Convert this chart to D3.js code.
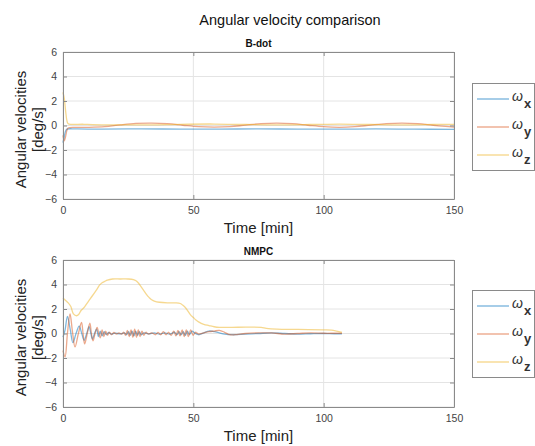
<!DOCTYPE html>
<html><head><meta charset="utf-8">
<script src="https://cdn.jsdelivr.net/npm/d3@7"></script>
<style>body{margin:0;background:#fff}svg{display:block;font-family:"Liberation Sans",Arial,sans-serif}</style>
</head><body><svg id="c" width="535" height="446"></svg>
<script>
const xTicks = [0, 50, 100, 150];
const yTicks = [-6, -4, -2, 0, 2, 4, 6];
const seriesNames = ["x", "y", "z"];
const seriesColors = ["#0072BD", "#D95319", "#EDB120"];

// B-dot series: [time (min), value (deg/s)]
const bdotWx = [[0,-1.4],[0.5,-0.9],[1,-0.45],[1.5,-0.3],[5,-0.28],[15,-0.3],[30,-0.27],[45,-0.3],[60,-0.3],[75,-0.27],[90,-0.3],[105,-0.3],[120,-0.28],[135,-0.3],[150,-0.32]];
const bdotWy = [[0,-0.8],[0.5,-1.25],[1,-0.9],[1.5,-0.4],[2,-0.2],[5,-0.15],[10,-0.15],[16,-0.1],[22,0.05],[28,0.17],[34,0.2],[40,0.15],[46,0.02],[52,-0.1],[58,-0.14],[64,-0.1],[70,0.03],[76,0.15],[82,0.2],[88,0.15],[94,0.02],[100,-0.1],[106,-0.15],[112,-0.1],[118,0.03],[124,0.15],[130,0.2],[136,0.15],[142,0.02],[148,-0.1],[150,-0.13]];
const bdotWz = [[0,2.7],[0.5,2.2],[1,1.2],[1.5,0.4],[2,0.15],[8,0.1],[16,0.05],[25,0.05],[34,0.05],[45,0.1],[58,0.12],[70,0.08],[82,0.05],[95,0.08],[106,0.12],[118,0.08],[130,0.05],[142,0.08],[150,0.1]];

// NMPC series
const nmpcWx = [[0,-0.3],[0.8,0.3],[1.7,1.4],[2.8,0.3],[3.8,-0.75],[5,0],[6.2,0.6],[7.2,0],[8.1,-0.55],[9.1,0],[10,0.55],[10.7,0],[11.3,-0.45],[12.1,0],[12.9,0.35],[13.6,-0.25],[14.3,0.2],[15,-0.2],[15.8,0.15],[16.6,-0.1],[17.5,0.08],[18.5,-0.05],[20,0.03],[22,-0.03],[23.6,0.05],[24.4,-0.1],[25.1,0.15],[25.8,-0.15],[26.5,0.2],[27.2,-0.2],[27.9,0.2],[28.6,-0.15],[29.3,0.15],[30,-0.1],[31,0.05],[33,-0.03],[35,0.05],[37,-0.05],[39,0.05],[41,-0.05],[42.8,0.1],[43.7,-0.1],[44.5,0.15],[45.3,-0.1],[46.1,0.15],[46.9,-0.15],[47.7,0.2],[48.5,-0.1],[49.5,0.2],[50.5,0.05],[52,-0.1],[54,0.05],[56,0.2],[58,0.15],[60,0.05],[62,-0.05],[65,-0.1],[70,-0.05],[75,0],[80,0.05],[85,0],[90,-0.05],[95,-0.02],[100,0],[104,-0.02],[107,-0.02]];
const nmpcWy = [[0,-1.4],[0.8,-1.9],[1.7,0],[2.7,1.6],[3.6,0.2],[4.6,-1.1],[5.9,0],[7.1,0.9],[7.7,0],[8.3,-0.85],[9.3,0],[10.3,0.85],[10.9,0],[11.5,-0.6],[12.3,0],[13.1,0.5],[13.7,0],[14.3,-0.35],[15,0.3],[15.7,-0.25],[16.4,0.2],[17.1,-0.15],[17.8,0.12],[18.6,-0.1],[19.5,0.08],[20.5,-0.05],[21.5,0.05],[22.5,-0.05],[23.3,0.1],[24,-0.15],[24.7,0.25],[25.4,-0.25],[26.1,0.3],[26.8,-0.3],[27.5,0.35],[28.2,-0.3],[28.9,0.3],[29.6,-0.25],[30.3,0.2],[31,-0.15],[31.8,0.1],[32.8,-0.05],[34,0.05],[35.5,-0.1],[36.5,0.1],[37.5,-0.1],[38.5,0.15],[39.5,-0.1],[40.5,0.1],[41.5,-0.15],[42.5,0.2],[43.3,-0.2],[44.1,0.25],[44.9,-0.2],[45.7,0.3],[46.5,-0.25],[47.3,0.3],[48.1,-0.25],[49,0.3],[49.9,-0.15],[50.8,0.1],[52,-0.05],[54,0.05],[56,0.15],[58,0.2],[60,0.25],[62,0.1],[64,-0.1],[66,-0.1],[70,0],[75,0.05],[80,0.05],[85,-0.05],[90,0],[95,0.05],[100,0.02],[104,0.02],[107,0.02]];
const nmpcWz = [[0,2.9],[1,2.7],[2,2.5],[3,2.2],[4,1.6],[5.2,1.45],[6,1.55],[7,1.9],[8,2.1],[9,2.4],[10,2.7],[11,3.0],[12,3.3],[13,3.6],[14,3.95],[15,4.15],[16,4.25],[17,4.35],[19,4.45],[22,4.45],[25,4.45],[27,4.4],[28,4.3],[29,4.1],[30,3.8],[31,3.5],[32,3.2],[33,2.95],[34,2.75],[35,2.65],[37,2.55],[40,2.5],[43,2.5],[45,2.45],[46,2.3],[47,2.1],[48,1.8],[49,1.5],[50,1.3],[51,1.1],[52,0.95],[54,0.75],[56,0.65],[58,0.55],[60,0.5],[65,0.5],[70,0.52],[76,0.5],[78,0.42],[82,0.35],[90,0.33],[100,0.3],[103,0.28],[105,0.2],[107,0.1]];

const panels = [
  {title: "B-dot", series: [bdotWx, bdotWy, bdotWz], top: 52, legendTop: 83},
  {title: "NMPC", series: [nmpcWx, nmpcWy, nmpcWz], top: 260, legendTop: 290}
];

const svg = d3.select("#c");
const L = 63, R = 454, H = 147;

svg.append("text").attr("x", 290).attr("y", 25).attr("text-anchor", "middle")
  .attr("font-size", 14.5).attr("fill", "#111").text("Angular velocity comparison");

panels.forEach(p => {
  const x = d3.scaleLinear().domain([0, 150]).range([L, R]);
  const y = d3.scaleLinear().domain([-6, 6]).range([p.top + H, p.top]);
  const g = svg.append("g");
  g.selectAll(".gy").data(yTicks).join("line")
    .attr("x1", L).attr("x2", R).attr("y1", d => y(d)).attr("y2", d => y(d))
    .attr("stroke", "#e4e4e4").attr("stroke-width", 1);
  g.selectAll(".gx").data(xTicks).join("line")
    .attr("y1", p.top).attr("y2", p.top + H).attr("x1", d => x(d)).attr("x2", d => x(d))
    .attr("stroke", "#e4e4e4").attr("stroke-width", 1);
  const line = d3.line().curve(d3.curveCatmullRom.alpha(0.5)).x(d => x(d[0])).y(d => y(d[1]));
  p.series.forEach((s, i) => {
    g.append("path").attr("d", line(s)).attr("fill", "none")
      .attr("stroke", seriesColors[i]).attr("stroke-opacity", 0.5).attr("stroke-width", 1.3);
  });
  const ax = g.append("g").attr("transform", `translate(0,${p.top + H})`)
    .call(d3.axisBottom(x).tickValues(xTicks).tickSizeInner(-4).tickSizeOuter(0).tickPadding(8));
  const ay = g.append("g").attr("transform", `translate(${L},0)`)
    .call(d3.axisLeft(y).tickValues(yTicks).tickSizeInner(-4).tickSizeOuter(0).tickPadding(6));
  const axT = g.append("g").attr("transform", `translate(0,${p.top})`)
    .call(d3.axisTop(x).tickValues(xTicks).tickSizeInner(-4).tickSizeOuter(0).tickFormat(""));
  const ayR = g.append("g").attr("transform", `translate(${R},0)`)
    .call(d3.axisRight(y).tickValues(yTicks).tickSizeInner(-4).tickSizeOuter(0).tickFormat(""));
  [ax, ay, axT, ayR].forEach(a => {
    a.select(".domain").attr("stroke", "#8a8a8a");
    a.selectAll(".tick line").attr("stroke", "#8a8a8a");
    a.selectAll("text").attr("fill", "#444").attr("font-size", 10.5).attr("font-family", "Liberation Sans, Arial, sans-serif");
  });
  g.append("text").attr("x", (L + R) / 2).attr("y", p.top - 5).attr("text-anchor", "middle")
    .attr("font-size", 10).attr("font-weight", "bold").attr("fill", "#111").text(p.title);
  g.append("text").attr("x", (L + R) / 2).attr("y", p.top + H + 34).attr("text-anchor", "middle")
    .attr("font-size", 15).attr("fill", "#222").text("Time [min]");
  const yl = g.append("text").attr("transform", `translate(26,${p.top + H / 2 + 4}) rotate(-90)`)
    .attr("text-anchor", "middle").attr("font-size", 15).attr("fill", "#222");
  yl.append("tspan").attr("x", 0).attr("dy", 0).text("Angular velocities");
  yl.append("tspan").attr("x", 0).attr("dy", 16.5).text("[deg/s]");
  const lg = g.append("g");
  lg.append("rect").attr("x", 472.5).attr("y", p.legendTop + 0.5).attr("width", 62).attr("height", 87)
    .attr("fill", "#fff").attr("stroke", "#8a8a8a").attr("stroke-width", 1);
  seriesNames.forEach((n, i) => {
    const yy = p.legendTop + 16 + i * 28;
    lg.append("line").attr("x1", 477).attr("x2", 509).attr("y1", yy).attr("y2", yy)
      .attr("stroke", seriesColors[i]).attr("stroke-opacity", 0.5).attr("stroke-width", 1.4);
    const t = lg.append("text").attr("x", 512).attr("y", yy + 2).attr("fill", "#333");
    t.append("tspan").attr("font-size", 14).attr("font-style", "italic").text("ω");
    t.append("tspan").attr("font-size", 13).attr("font-weight", "bold").attr("dy", 7).attr("dx", 1).text(n);
  });
});
</script></body></html>
